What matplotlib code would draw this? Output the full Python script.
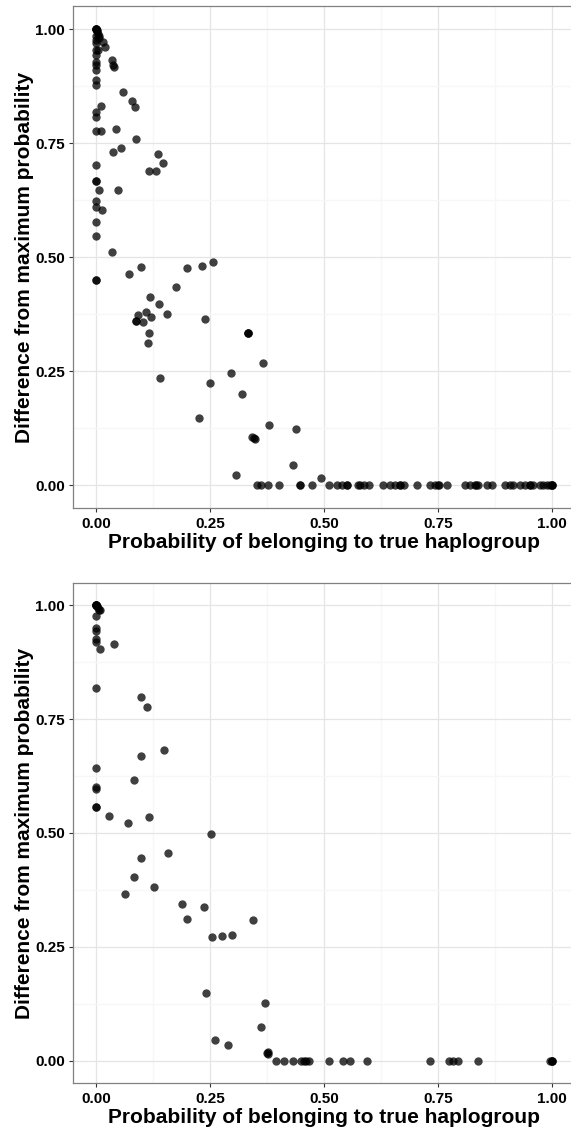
import matplotlib
matplotlib.use("Agg")
import matplotlib.pyplot as plt
from matplotlib.ticker import MultipleLocator

plt.rcParams['font.family'] = ['Liberation Sans', 'DejaVu Sans']

# top panel: (probability of true haplogroup, difference from max probability)
top_x = [0, 0, 0, 0, 0.001, 0.002, 0.003, 0.005, 0.006, 0, 0, 0.014, 0.019, 0, 0, 0.003, 0,
         0.034, 0.037, 0.039, 0, 0, 0, 0, 0, 0.058, 0.078, 0.085, 0.010, 0, 0, 0, 0.010, 0.043,
         0.087, 0.037, 0.054, 0.135, 0.146, 0.116, 0.132, 0, 0, 0, 0.007, 0.048, 0, 0, 0.012,
         0, 0, 0.035, 0.072, 0.098, 0.199, 0.231, 0.255, 0, 0,
         0.175, 0.118, 0.138, 0.092, 0.109, 0.087, 0.087, 0.102, 0.121, 0.156, 0.116, 0.113,
         0.239, 0.333, 0.333, 0.333, 0.366, 0.140, 0.296, 0.249, 0.320, 0.379, 0.438, 0.225,
         0.341, 0.347, 0.345, 0.432, 0.307, 0.492]
top_y = [1.0, 1.0, 1.0, 1.0, 0.998, 0.995, 0.99, 0.985, 0.98, 0.985, 0.975, 0.972, 0.961, 0.969,
         0.954, 0.954, 0.943, 0.932, 0.921, 0.917, 0.928, 0.921, 0.91, 0.888, 0.877, 0.861,
         0.842, 0.828, 0.832, 0.819, 0.808, 0.777, 0.777, 0.780, 0.758, 0.731, 0.738, 0.727,
         0.707, 0.689, 0.689, 0.702, 0.667, 0.667, 0.647, 0.647, 0.623, 0.609, 0.603, 0.577,
         0.545, 0.510, 0.462, 0.478, 0.477, 0.481, 0.488, 0.45, 0.45,
         0.434, 0.412, 0.397, 0.373, 0.379, 0.360, 0.360, 0.357, 0.368, 0.374, 0.333, 0.312,
         0.363, 0.333, 0.333, 0.333, 0.267, 0.234, 0.245, 0.224, 0.200, 0.132, 0.122, 0.146,
         0.105, 0.101, 0.103, 0.044, 0.021, 0.015]
# points sitting on zero difference
top_zero_x = [0.352, 0.361, 0.377, 0.401, 0.447, 0.447, 0.474, 0.510, 0.528, 0.538, 0.550, 0.550,
              0.573, 0.579, 0.586, 0.597, 0.629, 0.643, 0.655, 0.665, 0.667, 0.675, 0.703,
              0.732, 0.743, 0.750, 0.752, 0.768, 0.809, 0.820, 0.830, 0.833, 0.836, 0.856,
              0.867, 0.896, 0.907, 0.913, 0.929, 0.940, 0.950, 0.952, 0.958, 0.973, 0.980,
              0.988, 0.995, 1.0, 1.0, 1.0]

# bottom panel
bot_x = [0, 0, 0, 0, 0, 0.002, 0.004, 0.007, 0.008, 0, 0, 0, 0, 0, 0.008, 0.039, 0, 0.099,
         0.111, 0.148, 0.099, 0, 0.083, 0, 0, 0, 0, 0.028, 0.070, 0.115, 0.252, 0.063, 0.083,
         0.098, 0.157, 0.127, 0.189, 0.198, 0.237, 0.344, 0.253, 0.275, 0.298, 0.241, 0.369,
         0.361, 0.261, 0.289, 0.375, 0.376, 0.377]
bot_y = [1.0, 1.0, 1.0, 1.0, 1.0, 0.998, 0.995, 0.989, 0.99, 0.976, 0.951, 0.943, 0.927, 0.919,
         0.905, 0.916, 0.819, 0.799, 0.776, 0.682, 0.669, 0.642, 0.617, 0.601, 0.596, 0.557,
         0.557, 0.538, 0.523, 0.536, 0.497, 0.367, 0.404, 0.445, 0.457, 0.382, 0.345, 0.311,
         0.338, 0.308, 0.272, 0.274, 0.276, 0.148, 0.126, 0.074, 0.045, 0.034, 0.016, 0.014,
         0.018]
bot_zero_x = [0.393, 0.412, 0.432, 0.450, 0.455, 0.460, 0.467, 0.511, 0.540, 0.556, 0.593,
              0.732, 0.774, 0.782, 0.794, 0.838, 0.995, 1.0, 1.0, 1.0]

ticks = [0, 0.25, 0.5, 0.75, 1.0]
tick_labels = ["0.00", "0.25", "0.50", "0.75", "1.00"]
xlab = "Probability of belonging to true haplogroup"
ylab = "Difference from maximum probability"


def panel(ax, xs, ys, zeros):
    ax.set_facecolor("white")
    ax.scatter(xs + zeros, ys + [0.0] * len(zeros), s=36, color="black", alpha=0.75,
               linewidths=0, zorder=3)
    ax.set_xlim(-0.05, 1.05)
    ax.set_ylim(-0.05, 1.05)
    ax.set_xticks(ticks)
    ax.set_xticklabels(tick_labels)
    ax.set_yticks(ticks)
    ax.set_yticklabels(tick_labels)
    ax.xaxis.set_minor_locator(MultipleLocator(0.125))
    ax.yaxis.set_minor_locator(MultipleLocator(0.125))
    ax.grid(which="major", color="#e5e5e5", linewidth=0.9, zorder=0)
    ax.grid(which="minor", color="#f7f7f7", linewidth=0.9, zorder=0)
    ax.set_axisbelow(True)
    ax.tick_params(which="major", length=3, width=0.8, color="#333333", labelsize=11)
    ax.tick_params(axis="x", pad=3.5)
    ax.tick_params(axis="y", pad=3)
    ax.tick_params(which="minor", length=0)
    for lab in ax.get_xticklabels() + ax.get_yticklabels():
        lab.set_fontweight("bold")
    for sp in ax.spines.values():
        sp.set_color("#808080")
        sp.set_linewidth(0.9)
    ax.set_xlabel(xlab, fontsize=15, fontweight="bold")
    ax.set_ylabel(ylab, fontsize=15, fontweight="bold")
    ax.xaxis.set_label_coords(0.5, -0.05)
    ax.yaxis.set_label_coords(-0.079, 0.5)


fig = plt.figure(figsize=(5.71, 11.31), dpi=100)
ax1 = fig.add_axes([0.1287, 0.551, 0.8785, 0.4435])
ax2 = fig.add_axes([0.1287, 0.0422, 0.8785, 0.4426])
panel(ax1, top_x, top_y, top_zero_x)
panel(ax2, bot_x, bot_y, bot_zero_x)

fig.savefig("out.png", dpi=100)
